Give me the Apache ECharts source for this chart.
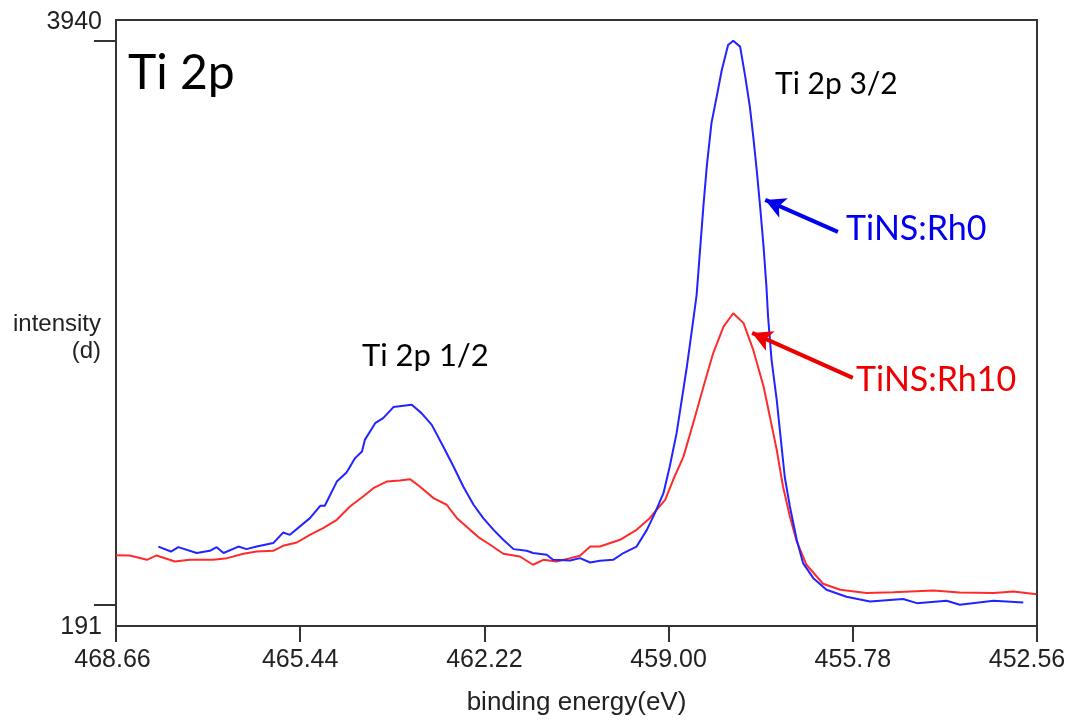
<!DOCTYPE html>
<html>
<head>
<meta charset="utf-8">
<script src="https://cdn.jsdelivr.net/npm/echarts@6/dist/echarts.min.js"></script>
<style>
html,body{margin:0;padding:0;background:#fff;}
#chart{width:1071px;height:722px;}
</style>
</head>
<body>
<div id="chart"></div>
<script>
// binding energy (eV) and intensity readings
const rh0Energy = [467.92,467.70,467.57,467.25,467.02,466.90,466.78,466.52,466.38,466.20,465.91,465.74,465.62,465.27,465.09,465.01,464.80,464.63,464.48,464.36,464.31,464.13,463.99,463.81,463.67,463.49,463.32,463.14,462.94,462.76,462.59,462.41,462.24,462.06,461.89,461.71,461.48,461.37,461.13,461.02,460.72,460.55,460.37,460.20,459.97,459.79,459.56,459.38,459.24,459.09,458.98,458.86,458.77,458.68,458.60,458.51,458.45,458.39,458.33,458.25,458.16,458.07,457.96,457.87,457.75,457.66,457.58,457.52,457.46,457.40,457.34,457.29,457.26,457.20,457.11,457.05,456.97,456.88,456.76,456.65,456.47,456.24,455.89,455.48,454.90,454.66,454.14,453.91,453.32,452.80];
const rh0Intensity = [578,545,574,535,550,574,535,578,561,578,601,671,656,767,849,849,1010,1070,1166,1210,1287,1398,1432,1505,1513,1520,1465,1387,1243,1110,977,856,767,689,623,561,550,535,523,490,485,501,472,483,490,535,578,689,800,933,1110,1332,1553,1775,1996,2251,2550,2849,3115,3394,3567,3746,3912,3940,3901,3702,3502,3303,3082,2838,2572,2306,2099,1819,1553,1334,1042,844,623,468,368,291,244,213,229,202,218,191,218,206];

const rh10Energy = [468.66,468.42,468.12,467.95,467.63,467.37,466.96,466.72,466.43,466.20,465.91,465.74,465.50,465.27,465.04,464.80,464.57,464.34,464.16,463.93,463.70,463.52,463.35,463.11,462.88,462.70,462.47,462.30,462.12,461.89,461.60,461.37,461.19,460.96,460.72,460.55,460.37,460.20,459.85,459.56,459.33,459.21,459.06,458.92,458.74,458.57,458.39,458.22,458.04,457.87,457.69,457.52,457.34,457.23,457.11,457.00,456.88,456.76,456.59,456.30,456.00,455.54,455.07,454.37,453.91,453.32,452.97,452.57];
const rh10Intensity = [521,519,490,519,479,490,490,501,530,545,550,583,605,656,701,756,844,911,966,1010,1017,1026,977,900,856,767,689,634,590,530,512,457,490,479,501,517,578,578,623,689,767,822,889,1022,1176,1398,1642,1864,2040,2129,2063,1885,1642,1442,1221,977,778,612,457,331,291,269,274,286,273,269,279,261];

const xTicks = [468.66, 465.44, 462.22, 459.00, 455.78, 452.56];
const yTicks = [191, 3940];

// annotation arrows: [start, tip] in data coordinates
const rh0Arrow = [[456.04, 2670], [457.31, 2882]];
const rh10Arrow = [[455.78, 1699], [457.54, 1998]];

const zip = (a, b) => a.map((v, i) => [v, b[i]]);

const chart = echarts.init(document.getElementById('chart'));
const axisColor = '#333';
const labelFont = 'Liberation Sans, Arial, sans-serif';
const annoFont = 'Lato, sans-serif';
const txt = { fontSize: 25, color: '#222', fontFamily: labelFont };
const nameTxt = { fontSize: 24, color: '#222', fontFamily: labelFont, lineHeight: 27 };

chart.setOption({
  animation: false,
  backgroundColor: '#fff',
  grid: { left: 116, right: 34, top: 20, bottom: 96, containLabel: false, outerBoundsMode: 'none', show: true, borderColor: axisColor, borderWidth: 2, backgroundColor: 'transparent' },
  xAxis: {
    type: 'value', inverse: true, min: 452.56, max: 468.66,
    axisLine: { show: true, lineStyle: { color: axisColor, width: 2 } },
    axisTick: { show: true, customValues: xTicks, length: 16, lineStyle: { color: axisColor, width: 2 } },
    axisLabel: {
      customValues: xTicks, margin: 22, ...txt,
      formatter: v => {
        const s = v.toFixed(2);
        if (v === 452.56) return '{r|' + s + '}';
        if (v === 468.66) return '{l|' + s + '}';
        return s;
      },
      rich: {
        r: { ...txt, padding: [0, 20, 0, 0] },
        l: { ...txt, padding: [0, 7, 0, 0] }
      }
    },
    splitLine: { show: false },
    name: 'binding energy(eV)', nameLocation: 'middle', nameGap: 64, nameMoveOverlap: false,
    nameTextStyle: { fontSize: 26, color: '#222', fontFamily: labelFont }
  },
  yAxis: {
    type: 'value', min: 50, max: 4078,
    axisLine: { show: true, lineStyle: { color: axisColor, width: 2 } },
    axisTick: { show: true, customValues: yTicks, length: 22, lineStyle: { color: axisColor, width: 2 } },
    axisLabel: {
      customValues: yTicks, margin: 14, ...txt,
      formatter: v => (v === 3940 ? '{t|' + v + '}' : '{b|' + v + '}'),
      rich: {
        t: { ...txt, padding: [0, 0, 38, 0] },
        b: { ...txt, padding: [44, 0, 0, 0] }
      }
    },
    splitLine: { show: false },
    name: '{a|intensity}\n{b|(d)}', nameLocation: 'middle', nameRotate: 0, nameGap: 15, nameMoveOverlap: false,
    nameTextStyle: {
      ...nameTxt, align: 'right',
      rich: {
        a: { ...nameTxt, padding: [30, 0, 0, 0] },
        b: { ...nameTxt, padding: [30, 0, 0, 0] }
      }
    }
  },
  series: [
    {
      name: 'TiNS:Rh10', type: 'line', showSymbol: false, symbol: 'none',
      data: zip(rh10Energy, rh10Intensity),
      lineStyle: { color: '#ff2b2b', width: 2 },
      markLine: {
        silent: true, symbol: ['none', 'arrow'], symbolSize: [16, 20],
        lineStyle: { color: '#ee0000', width: 4, type: 'solid' }, label: { show: false },
        data: [[{ coord: rh10Arrow[0] }, { coord: rh10Arrow[1] }]]
      }
    },
    {
      name: 'TiNS:Rh0', type: 'line', showSymbol: false, symbol: 'none',
      data: zip(rh0Energy, rh0Intensity),
      lineStyle: { color: '#2323ff', width: 2 },
      markLine: {
        silent: true, symbol: ['none', 'arrow'], symbolSize: [16, 20],
        lineStyle: { color: '#0000ee', width: 4, type: 'solid' }, label: { show: false },
        data: [[{ coord: rh0Arrow[0] }, { coord: rh0Arrow[1] }]]
      }
    }
  ],
  graphic: [
    { type: 'text', x: 128, y: 74, style: { text: 'Ti 2p', font: '48px ' + annoFont, fill: '#000', verticalAlign: 'middle' } },
    { type: 'text', x: 775, y: 84, style: { text: 'Ti 2p 3/2', font: '30px ' + annoFont, fill: '#000', verticalAlign: 'middle' } },
    { type: 'text', x: 362, y: 356, style: { text: 'Ti 2p 1/2', font: '31px ' + annoFont, fill: '#000', verticalAlign: 'middle' } },
    { type: 'text', x: 846, y: 229, style: { text: 'TiNS:Rh0', font: '34px ' + annoFont, fill: '#0000ee', verticalAlign: 'middle' } },
    { type: 'text', x: 856, y: 380, style: { text: 'TiNS:Rh10', font: '34px ' + annoFont, fill: '#ee0000', verticalAlign: 'middle' } }
  ]
});
</script>
</body>
</html>
